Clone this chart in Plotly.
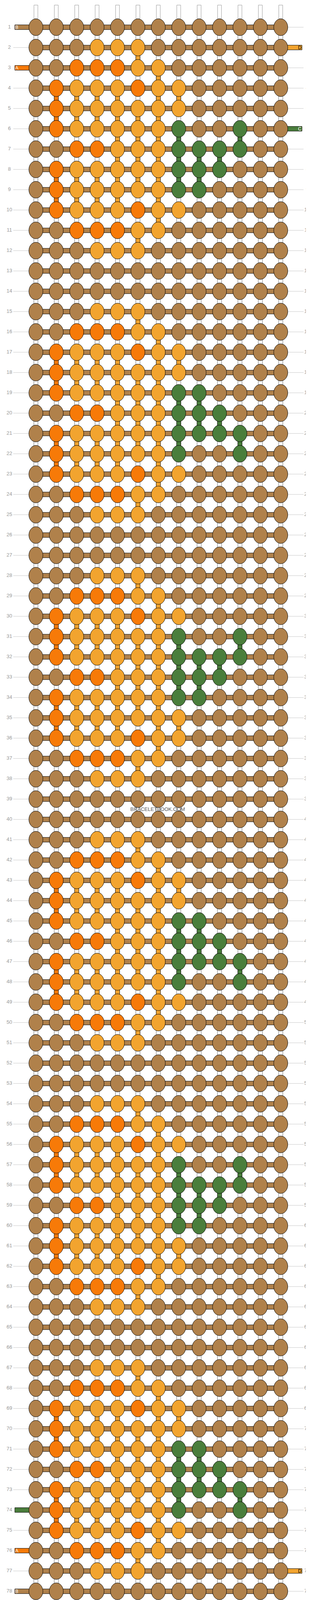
import plotly.graph_objects as go

# ---- data: knot colours per row (B=brown, O=orange, L=light orange, G=green) ----
rows = [
    "BBBBBBBBBBBBB", "BBBLLLBBBBBBB", "BBOOOLLBBBBBB", "BOLLLOLLBBBBB", "BOLLLLLLBBBBB",
    "BOLLLLLGBBGBB", "BBOOLLLGGGGBB", "BOLLLLLGGGBBB", "BOLLLLLGGBBBB", "BOLLLOLLBBBBB",
    "BBOOOLLBBBBBB", "BBBLLLBBBBBBB", "BBBBBBBBBBBBB", "BBBBBBBBBBBBB", "BBBLLLBBBBBBB",
    "BBOOOLLBBBBBB", "BOLLLOLLBBBBB", "BOLLLLLLBBBBB", "BOLLLLLGGBBBB", "BBOOLLLGGGBBB",
    "BOLLLLLGGGGBB", "BOLLLLLGBBGBB", "BOLLLOLLBBBBB", "BBOOOLLBBBBBB", "BBBLLLBBBBBBB",
    "BBBBBBBBBBBBB", "BBBBBBBBBBBBB", "BBBLLLBBBBBBB", "BBOOOLLBBBBBB", "BOLLLOLLBBBBB",
    "BOLLLLLGBBGBB", "BOLLLLLGGGGBB", "BBOOLLLGGGBBB", "BOLLLLLGGBBBB", "BOLLLLLLBBBBB",
    "BOLLLOLLBBBBB", "BBOOOLLBBBBBB", "BBBLLLBBBBBBB", "BBBBBBBBBBBBB", "BBBBBBBBBBBBB",
    "BBBLLLBBBBBBB", "BBOOOLLBBBBBB", "BOLLLOLLBBBBB", "BOLLLLLLBBBBB", "BOLLLLLGGBBBB",
    "BBOOLLLGGGBBB", "BOLLLLLGGGGBB", "BOLLLLLGBBGBB", "BOLLLOLLBBBBB", "BBOOOLLBBBBBB",
    "BBBLLLBBBBBBB", "BBBBBBBBBBBBB", "BBBBBBBBBBBBB", "BBBLLLBBBBBBB", "BBOOOLLBBBBBB",
    "BOLLLOLLBBBBB", "BOLLLLLGBBGBB", "BOLLLLLGGGGBB", "BBOOLLLGGGBBB", "BOLLLLLGGBBBB",
    "BOLLLLLLBBBBB", "BOLLLOLLBBBBB", "BBOOOLLBBBBBB", "BBBLLLBBBBBBB", "BBBBBBBBBBBBB",
    "BBBBBBBBBBBBB", "BBBLLLBBBBBBB", "BBOOOLLBBBBBB", "BOLLLOLLBBBBB", "BOLLLLLLBBBBB",
    "BOLLLLLGGBBBB", "BBOOLLLGGGBBB", "BOLLLLLGGGGBB", "BOLLLLLGBBGBB", "BOLLLOLLBBBBB",
    "BBOOOLLBBBBBB", "BBBLLLBBBBBBB", "BBBBBBBBBBBBB",
]
# starting / ending string stubs: (row, side, colour, letter)
stubs = [(1, "L", "B", "B"), (2, "R", "L", "D"), (3, "L", "O", "A"), (6, "R", "G", "C"),
         (74, "L", "G", ""), (76, "L", "O", "A"), (77, "R", "L", "D"), (78, "L", "B", "B")]

palette = {"B": "#B0814B", "O": "#F77A08", "L": "#F2A42F", "G": "#4A7E3C"}
arrow_col = {"B": "white", "O": "white", "L": "black", "G": "white"}

W, H = 792, 4128
ncol = len(rows[0])
nrow = len(rows)
X0, DX = 84, 52.3
Y0, DY = 61.7, 52.0
xs = [X0 + DX * j for j in range(ncol)]
ys = [Y0 + DY * i for i in range(nrow)]
EW, EH = 18, 21.5

fig = go.Figure()
shapes = []

for x in xs:
    for (a, b) in [(5, 40), (H - 42, H - 5)]:
        shapes.append(dict(type="rect", x0=x - 5, x1=x + 5, y0=a, y1=b,
                           line=dict(color="#999", width=1), fillcolor="white", layer="below"))

vx = {"W": ([], [])}
for i in range(nrow - 1):
    for j in range(ncol):
        a, b = rows[i][j], rows[i + 1][j]
        key = a if (a == b and a != "B") else "W"
        vx.setdefault(key, ([], []))
        vx[key][0].extend([xs[j], xs[j], None])
        vx[key][1].extend([ys[i], ys[i + 1], None])
for key, (px, py) in vx.items():
    if key == "W":
        fig.add_trace(go.Scatter(x=px, y=py, mode="lines", line=dict(color="#999", width=12), hoverinfo="skip"))
        fig.add_trace(go.Scatter(x=px, y=py, mode="lines", line=dict(color="white", width=9), hoverinfo="skip"))
    else:
        fig.add_trace(go.Scatter(x=px, y=py, mode="lines", line=dict(color="black", width=12), hoverinfo="skip"))
        fig.add_trace(go.Scatter(x=px, y=py, mode="lines", line=dict(color=palette[key], width=10), hoverinfo="skip"))

stub_rows = {(r, s): (c, t) for r, s, c, t in stubs}
gx, gy = [], []
for i in range(nrow):
    r = i + 1
    if (r, "L") not in stub_rows:
        gx += [26, 66, None]; gy += [ys[i], ys[i], None]
    if (r, "R") not in stub_rows:
        gx += [730, 770, None]; gy += [ys[i], ys[i], None]
fig.add_trace(go.Scatter(x=gx, y=gy, mode="lines", line=dict(color="#c8c8c8", width=1), hoverinfo="skip"))

hx, hy = [], []
for i in range(nrow):
    hx += [xs[0], xs[-1], None]; hy += [ys[i], ys[i], None]
fig.add_trace(go.Scatter(x=hx, y=hy, mode="lines", line=dict(color="black", width=13), hoverinfo="skip"))
fig.add_trace(go.Scatter(x=hx, y=hy, mode="lines", line=dict(color=palette["B"], width=11), hoverinfo="skip"))

for r, side, c, t in stubs:
    y = ys[r - 1]
    if side == "L":
        x0, x1, tx = 30, xs[0], 35
    else:
        x0, x1, tx = xs[-1], 766, 760
    shapes.append(dict(type="rect", x0=x0, x1=x1, y0=y - 6, y1=y + 6,
                       line=dict(color="black", width=1), fillcolor=palette[c], layer="below"))
    if t:
        fig.add_annotation(x=tx, y=y, text=t, showarrow=False,
                           font=dict(size=12, color="black" if c == "L" else "white", family="Liberation Sans"))

for i in range(nrow):
    for j in range(ncol):
        c = rows[i][j]
        shapes.append(dict(type="circle", x0=xs[j] - EW, x1=xs[j] + EW, y0=ys[i] - EH, y1=ys[i] + EH,
                           line=dict(color="black", width=1), fillcolor=palette[c], layer="above"))

for key in palette:
    ax, ay, at = [], [], []
    for i in range(nrow):
        for j in range(ncol):
            if rows[i][j] == key:
                ax.append(xs[j]); ay.append(ys[i]); at.append("→" if i % 2 == 0 else "←")
    fig.add_trace(go.Scatter(x=ax, y=ay, mode="text", text=at,
                             textfont=dict(size=17, color=arrow_col[key], family="DejaVu Sans"), hoverinfo="skip"))

lab = [str(i + 1) for i in range(nrow)]
fig.add_trace(go.Scatter(x=[16] * nrow, y=ys, mode="text", text=lab, textposition="middle center",
                         textfont=dict(size=13, color="#999", family="Liberation Sans"), hoverinfo="skip"))
fig.add_trace(go.Scatter(x=[779] * nrow, y=ys, mode="text", text=lab, textposition="middle center",
                         textfont=dict(size=13, color="#999", family="Liberation Sans"), hoverinfo="skip"))

fig.add_annotation(x=396, y=2063, text="BRACELETBOOK.COM", showarrow=False,
                   font=dict(size=13, color="#555", family="Liberation Sans Narrow, Liberation Sans"))

fig.update_layout(width=W, height=H, margin=dict(l=0, r=0, t=0, b=0), showlegend=False,
                  plot_bgcolor="white", paper_bgcolor="white", shapes=shapes,
                  xaxis=dict(range=[0, W], visible=False, fixedrange=True),
                  yaxis=dict(range=[H, 0], visible=False, fixedrange=True))
fig.write_html("out.html")
